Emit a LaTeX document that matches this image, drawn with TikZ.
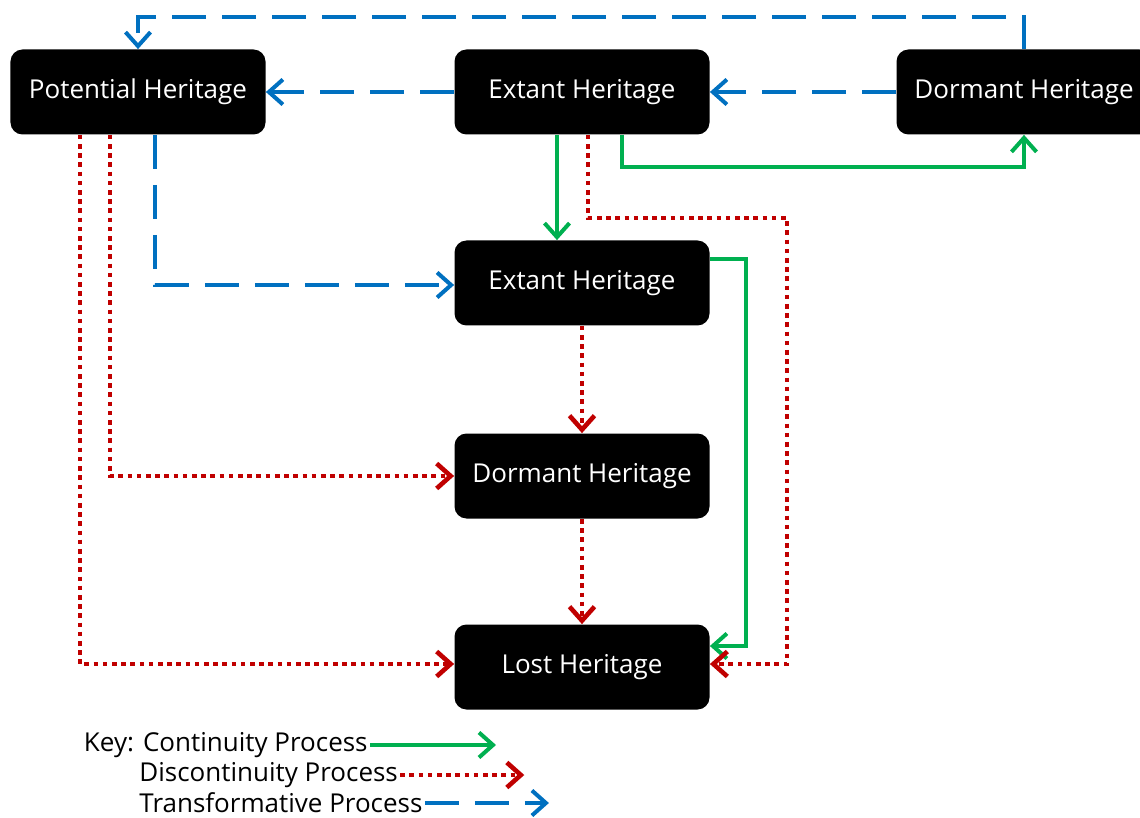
\documentclass[tikz,border=0pt]{standalone}
\usepackage{fontspec}
\setmainfont{Open Sans}
\usetikzlibrary{arrows.meta,positioning}
\definecolor{contgreen}{HTML}{00B050}
\definecolor{discred}{HTML}{C00000}
\definecolor{transblue}{HTML}{0070C0}

\begin{document}
\begin{tikzpicture}[
    node distance=95.5pt,
    box/.style={fill=black,text=white,rounded corners=6pt,minimum width=127.5pt,minimum height=42.5pt,font=\fontsize{13}{15}\selectfont},
    key/.style={inner sep=1pt,font=\fontsize{13}{15}\selectfont},
    cont/.style={draw=contgreen,line width=2pt,-{Straight Barb[length=7pt,width=12.5pt]}},
    disc/.style={draw=discred,line width=2.3pt,dash pattern=on 2.3pt off 2.3pt,-{Straight Barb[length=7pt,width=12.5pt]}},
    trans/.style={draw=transblue,line width=2pt,dash pattern=on 17pt off 8pt,-{Straight Barb[length=7pt,width=12.5pt]}}
  ]
      \useasboundingbox (-69pt,46pt) rectangle (501pt,-363pt);

      \node [box] (1) {Potential Heritage};
      \node [box,right of=1,xshift=126.5pt] (2) {Extant Heritage};
      \node [box,right of=2,xshift=125.5pt] (3) {Dormant Heritage};
      \node [box,below of=2] (4) {Extant Heritage};
      \node [box,below of=4,yshift=-1pt] (5) {Dormant Heritage};
      \node [box,below of=5] (6) {Lost Heritage};

      \draw[trans] (3.north) -- ++(0,16pt) -| (1.north);
      \draw[trans] (2.west) -- (1.east);
      \draw[trans] (3.west) -- (2.east);
      \draw[trans] ([xshift=8.5pt]1.south) |- ([yshift=-1pt]4.west);

      \draw[cont] ([xshift=-12.5pt]2.south) -- ([xshift=-12.5pt]4.north);
      \draw[cont] ([xshift=20pt]2.south) -- ++(0,-16pt) -| (3.south);
      \draw[cont] ([yshift=12pt]4.east) -- ++(18pt,0) |- ([yshift=10.5pt]6.east);

      \draw[disc] ([xshift=3pt]2.south) -- ++(0,-41.5pt) -| ([xshift=38.5pt,yshift=1.5pt]6.east) -- ([yshift=1.5pt]6.east);
      \draw[disc] (4.south) -- (5.north);
      \draw[disc] (5.south) -- (6.north);
      \draw[disc] ([xshift=-14pt]1.south) |- (5.west);
      \draw[disc] ([xshift=-29pt]1.south) |- ([yshift=1.5pt]6.west);

      % key
      \node [key,anchor=east] (k1) at (116pt,-326.5pt) {Key: Continuity Process};
      \node [key,anchor=west] (k2) at (-0.5pt,-341.5pt) {Discontinuity Process};
      \node [key,anchor=west] (k3) at (-0.5pt,-355.5pt) {Transformative Process};
      \draw[cont] (k1.east) -- ++(63pt,0);
      \draw[disc] (k2.east) -- ++(62pt,0);
      \draw[trans] (k3.east) -- ++(62pt,0);
    \end{tikzpicture}
\end{document}
